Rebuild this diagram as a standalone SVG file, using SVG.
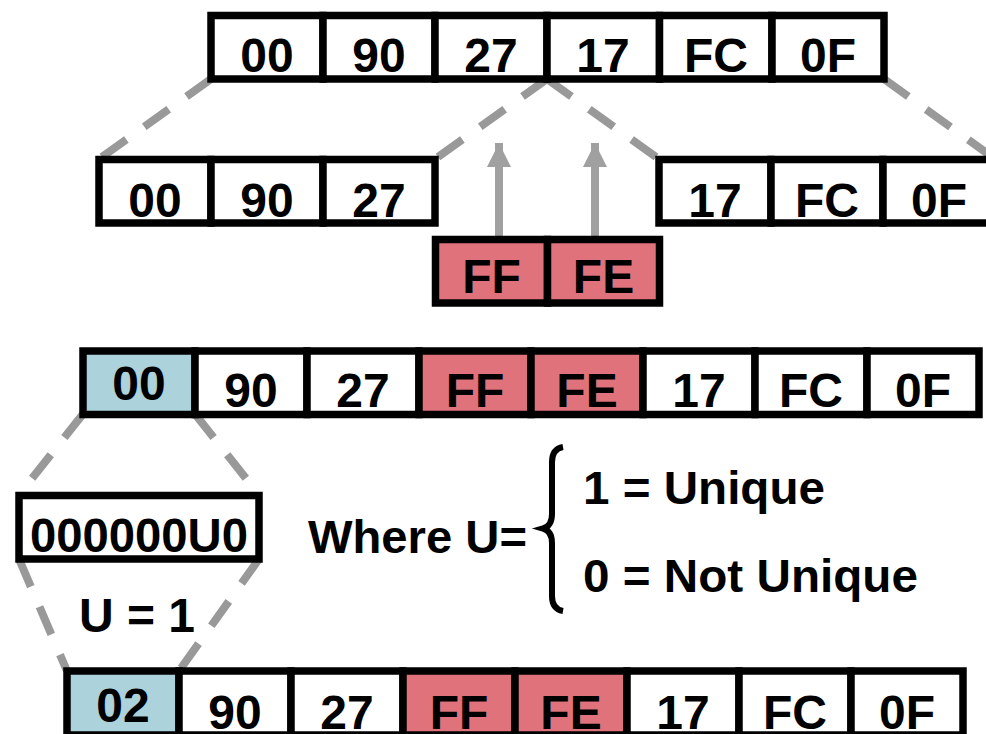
<svg xmlns="http://www.w3.org/2000/svg" width="986" height="734" viewBox="0 0 986 734">
<defs>
<style>
.c{stroke:#000;stroke-width:7.5;fill:#fff}
.r{fill:#e0727b}
.b{fill:#acd3dc}
.t{font-family:"Liberation Sans",Arial,sans-serif;font-weight:bold;font-size:48px;fill:#000;text-anchor:middle}
.l{font-family:"Liberation Sans",Arial,sans-serif;font-weight:bold;font-size:47px;fill:#000}
.d{stroke:#999;stroke-width:8;stroke-dasharray:30 22;fill:none}
.a{stroke:#a0a0a0;stroke-width:8;fill:none}
</style>
<marker id="ah" viewBox="0 0 24 24" markerWidth="24" markerHeight="24" refX="24" refY="12" orient="auto" markerUnits="userSpaceOnUse">
<path d="M0,0 L24,12 L0,24 z" fill="#a0a0a0"/>
</marker>
</defs>
<rect width="986" height="734" fill="#fff"/>

<g id="connectors">
<line class="d" x1="211" y1="79" x2="99" y2="159"/>
<line class="d" x1="547" y1="79" x2="435" y2="159"/>
<line class="d" x1="547" y1="79" x2="659" y2="159"/>
<line class="d" x1="884" y1="79" x2="995" y2="159"/>
<line class="d" x1="83" y1="414" x2="19" y2="495"/>
<line class="d" x1="195" y1="414" x2="259" y2="495"/>
<line class="d" x1="19" y1="559" x2="67" y2="671"/>
<line class="d" x1="259" y1="559" x2="179" y2="671"/>
<line class="a" x1="499" y1="239" x2="499" y2="143" marker-end="url(#ah)"/>
<line class="a" x1="595" y1="239" x2="595" y2="143" marker-end="url(#ah)"/>
</g>

<g id="row-top">
<rect class="c" x="211" y="15.5" width="112" height="63.5"/>
<rect class="c" x="323" y="15.5" width="112" height="63.5"/>
<rect class="c" x="435" y="15.5" width="112" height="63.5"/>
<rect class="c" x="547" y="15.5" width="112.5" height="63.5"/>
<rect class="c" x="659.5" y="15.5" width="112.5" height="63.5"/>
<rect class="c" x="772" y="15.5" width="112" height="63.5"/>
<text class="t" x="267" y="72">00</text>
<text class="t" x="379" y="72">90</text>
<text class="t" x="491" y="72">27</text>
<text class="t" x="603" y="72">17</text>
<text class="t" x="716" y="72">FC</text>
<text class="t" x="828" y="72">0F</text>
</g>

<g id="row-left">
<rect class="c" x="99" y="159.5" width="112" height="63.5"/>
<rect class="c" x="211" y="159.5" width="112" height="63.5"/>
<rect class="c" x="323" y="159.5" width="112" height="63.5"/>
<text class="t" x="155" y="217">00</text>
<text class="t" x="267" y="217">90</text>
<text class="t" x="379" y="217">27</text>
</g>

<g id="row-right">
<rect class="c" x="659" y="159.5" width="112" height="63.5"/>
<rect class="c" x="771" y="159.5" width="112" height="63.5"/>
<rect class="c" x="883" y="159.5" width="112" height="63.5"/>
<text class="t" x="715" y="217">17</text>
<text class="t" x="827" y="217">FC</text>
<text class="t" x="939" y="217">0F</text>
</g>

<g id="insert">
<rect class="c r" x="435.5" y="239.5" width="112" height="63.5"/>
<rect class="c r" x="547.5" y="239.5" width="112" height="63.5"/>
<text class="t" x="491.5" y="293">FF</text>
<text class="t" x="603.5" y="293">FE</text>
</g>

<g id="row-merged">
<rect class="c b" x="83" y="351" width="112" height="63.5"/>
<rect class="c" x="195" y="351" width="112" height="63.5"/>
<rect class="c" x="307" y="351" width="112" height="63.5"/>
<rect class="c r" x="419" y="351" width="112" height="63.5"/>
<rect class="c r" x="531" y="351" width="112" height="63.5"/>
<rect class="c" x="643" y="351" width="112" height="63.5"/>
<rect class="c" x="755" y="351" width="112" height="63.5"/>
<rect class="c" x="867" y="351" width="112" height="63.5"/>
<text class="t" x="139" y="400">00</text>
<text class="t" x="251" y="407">90</text>
<text class="t" x="363" y="407">27</text>
<text class="t" x="475" y="407">FF</text>
<text class="t" x="587" y="407">FE</text>
<text class="t" x="699" y="407">17</text>
<text class="t" x="811" y="407">FC</text>
<text class="t" x="923" y="407">0F</text>
</g>

<g id="flag-byte">
<rect class="c" x="19" y="495.5" width="240" height="63.5"/>
<text class="t" x="139" y="552" textLength="218" lengthAdjust="spacingAndGlyphs">000000U0</text>
</g>

<g id="u-label">
<text class="t" x="137" y="632">U = 1</text>
</g>

<g id="legend">
<text class="l" x="308" y="553" textLength="219" lengthAdjust="spacingAndGlyphs">Where U=</text>
<path d="M563,447 Q552,449 552,462 L552,514 Q552,526 543,528.5 Q552,531 552,543 L552,596 Q552,609 563,611" fill="none" stroke="#000" stroke-width="6"/>
<text class="l" x="583" y="504" textLength="242" lengthAdjust="spacingAndGlyphs">1 = Unique</text>
<text class="l" x="583" y="592" textLength="335" lengthAdjust="spacingAndGlyphs">0 = Not Unique</text>
</g>

<g id="row-result">
<rect class="c b" x="67" y="671" width="112" height="64"/>
<rect class="c" x="179" y="671" width="112" height="64"/>
<rect class="c" x="291" y="671" width="112" height="64"/>
<rect class="c r" x="403" y="671" width="112" height="64"/>
<rect class="c r" x="515" y="671" width="112" height="64"/>
<rect class="c" x="627" y="671" width="112" height="64"/>
<rect class="c" x="739" y="671" width="112" height="64"/>
<rect class="c" x="851" y="671" width="112" height="64"/>
<text class="t" x="123" y="722">02</text>
<text class="t" x="235" y="729">90</text>
<text class="t" x="347" y="729">27</text>
<text class="t" x="459" y="729">FF</text>
<text class="t" x="571" y="729">FE</text>
<text class="t" x="683" y="729">17</text>
<text class="t" x="795" y="729">FC</text>
<text class="t" x="907" y="729">0F</text>
</g>
</svg>
